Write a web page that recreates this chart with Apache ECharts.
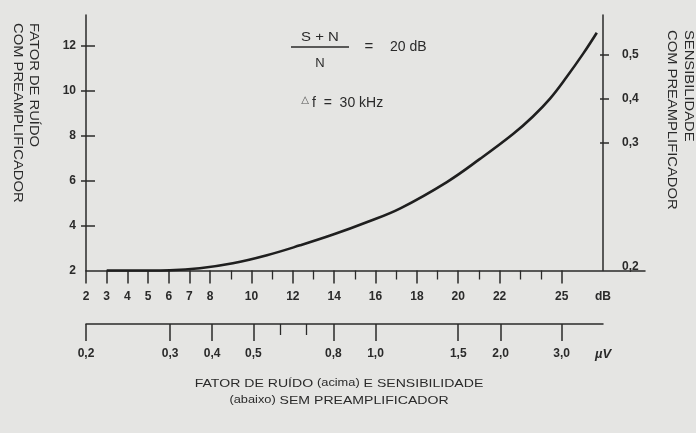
<!DOCTYPE html>
<html>
<head>
<meta charset="utf-8">
<script src="https://cdn.jsdelivr.net/npm/echarts@6/dist/echarts.min.js"></script>
<style>
  html, body { margin: 0; padding: 0; background: #e5e5e3; }
  #chart { width: 696px; height: 433px; }
</style>
</head>
<body>
<div id="chart"></div>
<script>
// Noise factor curve (with preamplifier) against noise figure in dB (without preamplifier)
const curveDb    = [3.0, 5.1, 6.05, 7.5, 9.1, 10.75, 12.35, 13.95, 15.6, 17.2, 19.45, 21.05, 22.65, 23.6, 24.45, 25.25, 26.05, 26.7];
const curveNoise = [2.0, 2.0, 2.01, 2.1, 2.32, 2.68, 3.12, 3.6, 4.16, 4.77, 5.94, 6.97, 8.08, 8.85, 9.67, 10.63, 11.67, 12.59];

// Upper horizontal scale: noise figure, dB
const dbMajor = [2, 3, 4, 5, 6, 7, 8, 10, 12, 14, 16, 18, 20, 22, 25];
const dbMinor = [9, 11, 13, 15, 17, 19, 21, 23, 24];
const unitAt = 27;

// Left scale: noise factor with preamplifier
const noiseTicks = [4, 6, 8, 10, 12];
const noiseLabels = [2, 4, 6, 8, 10, 12];

// Right scale: sensitivity with preamplifier (placed on the noise-factor scale)
const sensLabels = ['0,2', '0,3', '0,4', '0,5'];
const sensAtNoise = [2, 7.68, 9.64, 11.6];

// Lower horizontal scale: sensitivity in µV (placed on the dB scale)
const uvLabels = ['0,2', '0,3', '0,4', '0,5', '0,8', '1,0', '1,5', '2,0', '3,0'];
const uvAtDb = [2, 6.07, 8.1, 10.09, 13.96, 16, 20, 22.05, 25];
const uvMinorAtDb = [11.4, 12.65];

const INK = '#2a2a2a';
const FONT = "'Liberation Sans', Arial, Helvetica, sans-serif";

const chart = echarts.init(document.getElementById('chart'), null, { renderer: 'canvas' });

const plotLeft = 86, plotTop = 15, plotWidth = 559, plotHeight = 255.5;
const scaleWidth = 517; // dB 2..27
const dbMax = 2 + plotWidth * 25 / scaleWidth;
const yMax = 13.38;

const axisLine = { show: true, lineStyle: { color: INK, width: 1.5 } };
const numLabel = { color: INK, fontFamily: FONT, fontSize: 12, fontWeight: 'bold' };

const option = {
  backgroundColor: '#e5e5e3',
  animation: false,
  grid: [
    { left: plotLeft, top: plotTop, width: plotWidth, height: plotHeight, containLabel: false },
    { left: plotLeft, top: 300, width: scaleWidth, height: 24, containLabel: false }
  ],
  xAxis: [
    {
      type: 'value', gridIndex: 0, min: 2, max: dbMax, position: 'bottom',
      axisLine: axisLine,
      axisTick: { show: true, customValues: dbMajor, length: 13, lineStyle: { color: INK, width: 1.5 } },
      axisLabel: Object.assign({}, numLabel, {
        customValues: dbMajor.concat([unitAt]), margin: 20,
        formatter: v => v === unitAt ? '{u|dB}' : String(v),
        rich: { u: { color: INK, fontFamily: FONT, fontSize: 12, fontWeight: 'bold' } }
      }),
      splitLine: { show: false }
    },
    {
      type: 'value', gridIndex: 0, min: 2, max: dbMax, position: 'bottom',
      axisLine: { show: false },
      axisTick: { show: true, customValues: dbMinor, length: 9, lineStyle: { color: INK, width: 1.3 } },
      axisLabel: { show: false },
      splitLine: { show: false }
    },
    {
      type: 'value', gridIndex: 1, min: 2, max: 27, position: 'bottom',
      axisLine: axisLine,
      axisTick: { show: true, customValues: uvAtDb, length: 17, lineStyle: { color: INK, width: 1.5 } },
      axisLabel: Object.assign({}, numLabel, {
        customValues: uvAtDb.concat([unitAt]), margin: 24,
        formatter: v => v === unitAt ? '{u|µV}' : uvLabels[uvAtDb.indexOf(v)],
        rich: { u: { color: INK, fontFamily: FONT, fontSize: 13, fontStyle: 'italic' } }
      }),
      splitLine: { show: false }
    },
    {
      type: 'value', gridIndex: 1, min: 2, max: 27, position: 'bottom',
      axisLine: { show: false },
      axisTick: { show: true, customValues: uvMinorAtDb, length: 11, lineStyle: { color: INK, width: 1.3 } },
      axisLabel: { show: false },
      splitLine: { show: false }
    }
  ],
  yAxis: [
    {
      type: 'value', gridIndex: 0, min: 2, max: yMax, position: 'left',
      axisLine: axisLine,
      axisTick: { show: true, customValues: noiseTicks, length: 5, lineStyle: { color: INK, width: 1.5 } },
      axisLabel: Object.assign({}, numLabel, { customValues: noiseLabels, margin: 10 }),
      splitLine: { show: false }
    },
    {
      type: 'value', gridIndex: 0, min: 2, max: yMax, position: 'left',
      axisLine: { show: false },
      axisTick: { show: true, inside: true, customValues: noiseTicks, length: 9, lineStyle: { color: INK, width: 1.5 } },
      axisLabel: { show: false },
      splitLine: { show: false }
    },
    {
      type: 'value', gridIndex: 0, min: 2, max: yMax, position: 'right', offset: -(plotWidth - scaleWidth),
      axisLine: axisLine,
      axisTick: { show: true, customValues: sensAtNoise.slice(1), length: 6, lineStyle: { color: INK, width: 1.5 } },
      axisLabel: Object.assign({}, numLabel, {
        customValues: sensAtNoise, margin: 19,
        // the lowest value sits just above the extended base line
        formatter: v => v === sensAtNoise[0] ? '{low|' + sensLabels[0] + '}' : sensLabels[sensAtNoise.indexOf(v)],
        rich: { low: { color: INK, fontFamily: FONT, fontSize: 12, fontWeight: 'bold', padding: [0, 0, 7, 0] } }
      }),
      splitLine: { show: false }
    },
    {
      type: 'value', gridIndex: 0, min: 2, max: yMax, position: 'right', offset: -(plotWidth - scaleWidth),
      axisLine: { show: false },
      axisTick: { show: true, inside: true, customValues: sensAtNoise.slice(1), length: 3, lineStyle: { color: INK, width: 1.5 } },
      axisLabel: { show: false },
      splitLine: { show: false }
    },
    { type: 'value', gridIndex: 1, show: false, min: 0, max: 1 }
  ],
  series: [
    {
      type: 'line',
      xAxisIndex: 0, yAxisIndex: 0,
      data: curveDb.map((d, i) => [d, curveNoise[i]]),
      smooth: 0.4,
      symbol: 'none',
      lineStyle: { color: '#1f1f1f', width: 2.6 },
      clip: false
    }
  ],
  graphic: [
    // vertical titles
    {
      type: 'text', x: 41.5, y: 23, rotation: -Math.PI / 2, scaleX: 1.23,
      style: {
        text: 'FATOR DE RUÍDO\nCOM PREAMPLIFICADOR',
        fill: INK, fontFamily: FONT, fontSize: 12, lineHeight: 16,
        align: 'left', verticalAlign: 'top'
      }
    },
    {
      type: 'text', x: 696.5, y: 30, rotation: -Math.PI / 2, scaleX: 1.23,
      style: {
        text: 'SENSIBILIDADE\nCOM PREAMPLIFICADOR',
        fill: INK, fontFamily: FONT, fontSize: 12, lineHeight: 17,
        align: 'left', verticalAlign: 'top'
      }
    },
    // measurement conditions
    {
      type: 'text', x: 320, y: 37, scaleX: 1.15,
      style: { text: 'S + N', fill: INK, fontFamily: FONT, fontSize: 13, align: 'center', verticalAlign: 'middle' }
    },
    {
      type: 'line', shape: { x1: 291, y1: 47, x2: 349, y2: 47 },
      style: { stroke: INK, lineWidth: 1.3 }
    },
    {
      type: 'text', x: 320, y: 63,
      style: { text: 'N', fill: INK, fontFamily: FONT, fontSize: 13, align: 'center', verticalAlign: 'middle' }
    },
    {
      type: 'text', x: 369, y: 47,
      style: { text: '=', fill: INK, fontFamily: FONT, fontSize: 15, align: 'center', verticalAlign: 'middle' }
    },
    {
      type: 'text', x: 390, y: 47,
      style: { text: '20 dB', fill: INK, fontFamily: FONT, fontSize: 14, align: 'left', verticalAlign: 'middle' }
    },
    {
      type: 'text', x: 305, y: 100,
      style: { text: '△', fill: '#555', fontFamily: "'DejaVu Sans', sans-serif", fontSize: 10, align: 'center', verticalAlign: 'middle' }
    },
    {
      type: 'text', x: 312, y: 103,
      style: { text: 'f  =  30 kHz', fill: INK, fontFamily: FONT, fontSize: 14, align: 'left', verticalAlign: 'middle' }
    },
    // caption
    {
      type: 'text', x: 339, y: 392, scaleX: 1.28,
      style: {
        text: 'FATOR DE RUÍDO {s|(acima)} E SENSIBILIDADE\n{s|(abaixo)} SEM PREAMPLIFICADOR',
        fill: INK, fontFamily: FONT, fontSize: 11, lineHeight: 17,
        align: 'center', verticalAlign: 'middle',
        rich: { s: { fill: INK, fontFamily: FONT, fontSize: 10, lineHeight: 17 } }
      }
    }
  ]
};

chart.setOption(option);
</script>
</body>
</html>
